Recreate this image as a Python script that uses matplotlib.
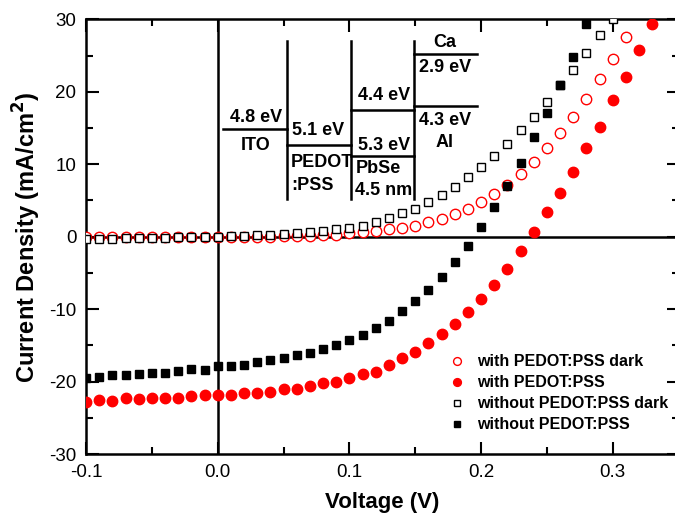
import numpy as np
import matplotlib
matplotlib.use('Agg')
import matplotlib.pyplot as plt
from matplotlib.ticker import MultipleLocator

plt.rcParams['font.family'] = ['Liberation Sans', 'DejaVu Sans']

# bias voltage (V), 10 mV steps as measured
voltage = [-0.10, -0.09, -0.08, -0.07, -0.06, -0.05, -0.04, -0.03, -0.02, -0.01,
           0.00, 0.01, 0.02, 0.03, 0.04, 0.05, 0.06, 0.07, 0.08, 0.09,
           0.10, 0.11, 0.12, 0.13, 0.14, 0.15, 0.16, 0.17, 0.18, 0.19,
           0.20, 0.21, 0.22, 0.23, 0.24, 0.25, 0.26, 0.27, 0.28, 0.29,
           0.30, 0.31, 0.32, 0.33]

# current density (mA/cm2)
with_dark = [-0.05, -0.05, -0.05, -0.05, -0.05, -0.05, -0.05, -0.05, -0.05, -0.03,
             0.0, 0.0, 0.0, 0.02, 0.03, 0.05, 0.08, 0.12, 0.18, 0.28,
             0.45, 0.6, 0.79, 1.0, 1.2, 1.52, 1.98, 2.48, 3.08, 3.82,
             4.79, 5.93, 7.17, 8.65, 10.3, 12.2, 14.35, 16.5, 19.0, 21.75,
             24.5, 27.5]
with_light = [-22.8, -22.6, -22.7, -22.3, -22.4, -22.3, -22.2, -22.2, -22.0, -21.8,
              -21.9, -21.8, -21.5, -21.5, -21.4, -21.05, -20.95, -20.6, -20.2, -20.1,
              -19.5, -18.9, -18.6, -17.7, -16.7, -15.9, -14.7, -13.4, -12.0, -10.4,
              -8.55, -6.6, -4.4, -2.0, 0.6, 3.4, 6.1, 9.0, 12.3, 15.2,
              18.9, 22.1, 25.8, 29.3]
without_dark = [-0.35, -0.3, -0.25, -0.2, -0.2, -0.15, -0.15, -0.1, -0.1, -0.05,
                0.0, 0.1, 0.1, 0.2, 0.25, 0.35, 0.45, 0.6, 0.8, 1.0,
                1.24, 1.52, 2.07, 2.53, 3.22, 3.86, 4.79, 5.71, 6.9, 8.19,
                9.57, 11.17, 12.79, 14.67, 16.47, 18.54, 20.92, 23.0, 25.3, 27.86,
                30.1]
without_light = [-19.45, -19.3, -19.1, -19.1, -18.9, -18.75, -18.75, -18.5, -18.3, -18.4,
                 -17.9, -17.8, -17.7, -17.3, -17.0, -16.7, -16.3, -16.0, -15.5, -14.9,
                 -14.3, -13.6, -12.55, -11.6, -10.3, -8.9, -7.4, -5.6, -3.5, -1.25,
                 1.3, 4.1, 7.0, 10.2, 13.7, 17.1, 21.0, 24.8, 29.3]

labels = ['with PEDOT:PSS dark', 'with PEDOT:PSS',
          'without PEDOT:PSS dark', 'without PEDOT:PSS']
xticks = [-0.1, 0.0, 0.1, 0.2, 0.3]
xticklabels = ['-0.1', '0.0', '0.1', '0.2', '0.3']
yticks = [-30, -20, -10, 0, 10, 20, 30]
yticklabels = ['-30', '-20', '-10', '0', '10', '20', '30']

fig = plt.figure(figsize=(6.75, 5.25), dpi=100)
ax = fig.add_axes([0.1274, 0.135, 0.878, 0.8282])

ax.axhline(0, color='black', lw=1.8, zorder=1)
ax.axvline(0, color='black', lw=1.8, zorder=1)

ax.plot(voltage[:len(with_dark)], with_dark, 'o', ms=7.5, mfc='white', mec='red',
        mew=1.0, label=labels[0], zorder=3)
ax.plot(voltage[:len(with_light)], with_light, 'o', ms=7.5, mfc='red', mec='red',
        mew=1.0, label=labels[1], zorder=3)
ax.plot(voltage[:len(without_dark)], without_dark, 's', ms=6, mfc='white', mec='black',
        mew=1.0, label=labels[2], zorder=4)
ax.plot(voltage[:len(without_light)], without_light, 's', ms=6, mfc='black', mec='black',
        mew=1.0, label=labels[3], zorder=5)

# energy level diagram inset
lk = dict(color='black', lw=1.8, zorder=2)
for xv in [0.0526, 0.1012, 0.149]:
    ax.plot([xv, xv], [5.2, 27.0], **lk)
ax.plot([0.004, 0.0526], [14.8, 14.8], **lk)
ax.plot([0.0526, 0.1012], [12.65, 12.65], **lk)
ax.plot([0.1012, 0.149], [17.5, 17.5], **lk)
ax.plot([0.1012, 0.149], [11.2, 11.2], **lk)
ax.plot([0.149, 0.1969], [25.2, 25.2], **lk)
ax.plot([0.149, 0.1969], [18.0, 18.0], **lk)

tk = dict(fontsize=13, fontweight='bold', va='center')
ax.text(0.029, 16.5, '4.8 eV', ha='center', **tk)
ax.text(0.029, 12.65, 'ITO', ha='center', **tk)
ax.text(0.0765, 14.7, '5.1 eV', ha='center', **tk)
ax.text(0.0555, 10.2, 'PEDOT', ha='left', **tk)
ax.text(0.0555, 7.13, ':PSS', ha='left', **tk)
ax.text(0.1265, 19.5, '4.4 eV', ha='center', **tk)
ax.text(0.1265, 12.65, '5.3 eV', ha='center', **tk)
ax.text(0.1045, 9.47, 'PbSe', ha='left', **tk)
ax.text(0.1045, 6.44, '4.5 nm', ha='left', **tk)
ax.text(0.1726, 26.86, 'Ca', ha='center', **tk)
ax.text(0.1726, 23.4, '2.9 eV', ha='center', **tk)
ax.text(0.1726, 16.1, '4.3 eV', ha='center', **tk)
ax.text(0.1726, 12.96, 'Al', ha='center', **tk)

ax.set_xlim(-0.1, 0.35)
ax.set_ylim(-30, 30)
ax.set_xticks(xticks)
ax.set_xticklabels(xticklabels)
ax.set_yticks(yticks)
ax.set_yticklabels(yticklabels)
ax.xaxis.set_minor_locator(MultipleLocator(0.05))
ax.yaxis.set_minor_locator(MultipleLocator(5))
ax.tick_params(which='both', direction='in', top=True, right=True,
               labelsize=13.5, width=1.5)
ax.tick_params(which='major', length=9, pad=7)
ax.tick_params(which='minor', length=5)
for s in ax.spines.values():
    s.set_linewidth(1.8)

ax.set_xlabel('Voltage (V)', fontsize=16, fontweight='bold', labelpad=8)
ax.set_ylabel('Current Density (mA/cm$^\\mathbf{2}$)', fontsize=17,
              fontweight='bold', labelpad=4)

ax.legend(loc='upper left', bbox_to_anchor=(0.5985, 0.248), frameon=False,
          handlelength=1.0, handletextpad=0.8, borderpad=0,
          labelspacing=0.38, markerscale=0.75, prop={'weight': 'bold', 'size': 11.5})

fig.savefig('out.png', dpi=100)
